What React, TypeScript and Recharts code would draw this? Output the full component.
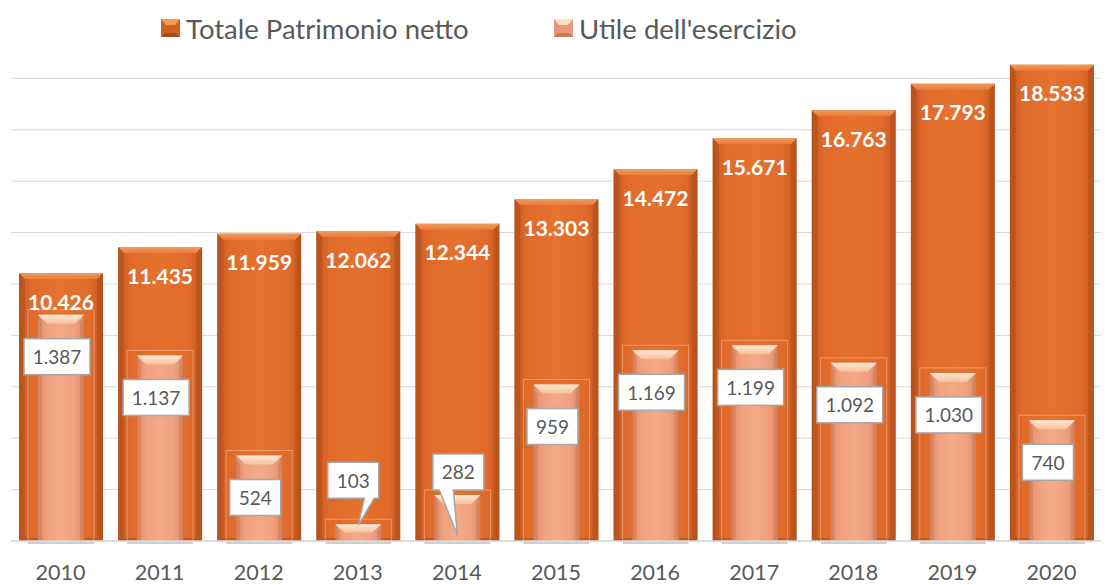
import React from 'react';
import {
  BarChart,
  Bar,
  XAxis,
  YAxis,
  CartesianGrid,
  LabelList,
} from 'recharts';

const YEARS = ['2010', '2011', '2012', '2013', '2014', '2015', '2016', '2017', '2018', '2019', '2020'];
const PATRIMONIO = [10426, 11435, 11959, 12062, 12344, 13303, 14472, 15671, 16763, 17793, 18533];
const UTILE = [1387, 1137, 524, 103, 282, 959, 1169, 1199, 1092, 1030, 740];
const LEFT_TICKS = [0, 2000, 4000, 6000, 8000, 10000, 12000, 14000, 16000, 18000];

const SERIES_NAMES = ['Totale Patrimonio netto', "Utile dell'esercizio"];

const data = YEARS.map((year, i) => ({
  year,
  patrimonio: PATRIMONIO[i],
  utile: UTILE[i],
}));

const FONT = 'Lato, "Open Sans", sans-serif';
const TEXT = '#595959';

// dotted thousands, Italian style
const fmt = (v: number) => String(v).replace(/\B(?=(\d{3})+(?!\d))/g, '.');

// callouts for the small values: box offset from bar top, pointer base, tip target
const CALLOUTS: Record<string, { dy: number; dx: number; base: [number, number]; tip: 'top' | 'bottom' }> = {
  '2013': { dy: -44, dx: -5, base: [11, 21], tip: 'top' },
  '2014': { dy: -23, dx: 1, base: [-19, -5], tip: 'bottom' },
};

const BigBar = (props: any) => {
  const { x, y, width: w, height: h } = props;
  if (!h || h <= 0) return null;
  const b = 6;
  return (
    <g>
      <rect x={x} y={y} width={w} height={h} fill="url(#bigBody)" />
      <polygon points={`${x},${y} ${x + b},${y + b} ${x + b},${y + h - 3} ${x},${y + h}`} fill="#7a3210" opacity={0.22} />
      <polygon points={`${x + w},${y} ${x + w - b},${y + b} ${x + w - b},${y + h - 3} ${x + w},${y + h}`} fill="#7a3210" opacity={0.22} />
      <polygon points={`${x},${y + h} ${x + b},${y + h - 3} ${x + w - b},${y + h - 3} ${x + w},${y + h}`} fill="#7a3210" opacity={0.3} />
      <polygon points={`${x},${y} ${x + w},${y} ${x + w - b},${y + b} ${x + b},${y + b}`} fill="url(#bigTop)" />
    </g>
  );
};

const SmallBar = (props: any) => {
  const { x, y, width: w, height: h } = props;
  if (!h || h <= 0) return null;
  const b = Math.min(9, h / 2);
  return (
    <g>
      <rect x={x - 10} y={y - 5} width={w + 20} height={h + 5} fill="none" stroke="#f7bf9c" strokeOpacity={0.55} strokeWidth={1} />
      <line x1={x - 10} x2={x + w + 10} y1={y + h + 2} y2={y + h + 2} stroke="#bfbfbf" strokeWidth={1.5} />
      <rect x={x} y={y} width={w} height={h} fill="url(#smallBody)" />
      <polygon points={`${x},${y} ${x + 4},${y + b} ${x + 4},${y + h} ${x},${y + h}`} fill="#a0502a" opacity={0.18} />
      <polygon points={`${x + w},${y} ${x + w - 4},${y + b} ${x + w - 4},${y + h} ${x + w},${y + h}`} fill="#a0502a" opacity={0.18} />
      <polygon points={`${x},${y} ${x + w},${y} ${x + w - 9},${y + b} ${x + 9},${y + b}`} fill="url(#smallTop)" />
    </g>
  );
};

const BigLabel = (props: any) => {
  const { x, y, width, value } = props;
  return (
    <text
      x={x + width / 2}
      y={y + 28}
      textAnchor="middle"
      dominantBaseline="central"
      fill="#ffffff"
      fontFamily={FONT}
      fontWeight={700}
      fontSize={21}
    >
      {fmt(value)}
    </text>
  );
};

const UtileLabel = (props: any) => {
  const { x, y, width, height, value, index } = props;
  const label = fmt(value);
  const digits = label.replace(/\./g, '').length;
  const dots = label.length - digits;
  const bw = Math.round(digits * 10.4 + dots * 4.7 + 20);
  const bh = 36;
  const cx = x + width / 2;
  const top = y;
  const bottom = y + height;
  const call = CALLOUTS[YEARS[index]];

  if (call) {
    const bx = cx + call.dx;
    const by = top + call.dy;
    const x0 = bx - bw / 2;
    const x1 = bx + bw / 2;
    const y0 = by - bh / 2;
    const y1 = by + bh / 2;
    const tipY = call.tip === 'top' ? top + 1 : bottom - 6;
    const path = `M${x0},${y0} H${x1} V${y1} H${bx + call.base[1]} L${cx},${tipY} L${bx + call.base[0]},${y1} H${x0} Z`;
    return (
      <g>
        <path d={path} fill="#ffffff" stroke="#a6a6a6" strokeWidth={1.5} />
        <text x={bx} y={by} textAnchor="middle" dominantBaseline="central" fill={TEXT} fontFamily={FONT} fontSize={19}>
          {label}
        </text>
      </g>
    );
  }

  const bx = cx - 4;
  const by = top + 42;
  return (
    <g>
      <rect x={bx - bw / 2} y={by - bh / 2} width={bw} height={bh} fill="#ffffff" stroke="#a6a6a6" strokeWidth={1.5} />
      <text x={bx} y={by} textAnchor="middle" dominantBaseline="central" fill={TEXT} fontFamily={FONT} fontSize={19}>
        {label}
      </text>
    </g>
  );
};

const YearTick = (props: any) => {
  const { x, y, payload } = props;
  return (
    <text x={x} y={y + 31} textAnchor="middle" dominantBaseline="central" fill={TEXT} fontFamily={FONT} fontSize={21.5}>
      {payload.value}
    </text>
  );
};

const LegendIcon = ({ light }: { light?: boolean }) => (
  <svg width={19} height={18} style={{ display: 'block' }}>
    <rect x={0} y={0} width={19} height={18} fill={light ? '#e9967a' : '#d0621f'} />
    <polygon points="0,0 19,0 14,6 5,6" fill={light ? '#fbe0c8' : '#f39a55'} />
    <polygon points="0,18 19,18 15,14 4,14" fill={light ? '#c87a5a' : '#a44b16'} />
  </svg>
);

const legendItems = [
  { name: SERIES_NAMES[0], left: 161, light: false },
  { name: SERIES_NAMES[1], left: 554, light: true },
];

export default function App() {
  return (
    <div style={{ position: 'absolute', left: 0, top: 0, width: 1108, height: 585, background: '#ffffff' }}>
      <BarChart
        width={1108}
        height={585}
        data={data}
        margin={{ top: 27, right: 7, bottom: 4, left: 11 }}
      >
        <defs>
          <linearGradient id="bigBody" x1="0" y1="0" x2="1" y2="0">
            <stop offset="0%" stopColor="#c95a1f" />
            <stop offset="15%" stopColor="#df6a2b" />
            <stop offset="50%" stopColor="#e6722f" />
            <stop offset="85%" stopColor="#df6a2b" />
            <stop offset="100%" stopColor="#c95a1f" />
          </linearGradient>
          <linearGradient id="bigTop" x1="0" y1="0" x2="0" y2="1">
            <stop offset="0%" stopColor="#f29a5c" />
            <stop offset="100%" stopColor="#e97c3a" />
          </linearGradient>
          <linearGradient id="smallBody" x1="0" y1="0" x2="1" y2="0">
            <stop offset="0%" stopColor="#e08b67" />
            <stop offset="20%" stopColor="#f0a07e" />
            <stop offset="50%" stopColor="#f4aa88" />
            <stop offset="80%" stopColor="#f0a07e" />
            <stop offset="100%" stopColor="#e08b67" />
          </linearGradient>
          <linearGradient id="smallTop" x1="0" y1="0" x2="0" y2="1">
            <stop offset="0%" stopColor="#fdebd6" />
            <stop offset="100%" stopColor="#f6bf9a" />
          </linearGradient>
        </defs>
        <CartesianGrid
          vertical={false}
          stroke="#d9d9d9"
          xAxisId="a"
          yAxisId="left"
          horizontalValues={LEFT_TICKS}
        />
        <XAxis
          xAxisId="a"
          dataKey="year"
          height={40}
          tickLine={false}
          tickSize={0}
          tickMargin={0}
          axisLine={{ stroke: '#d9d9d9', strokeWidth: 1.5 }}
          tick={<YearTick />}
          interval={0}
        />
        <XAxis xAxisId="b" dataKey="year" hide />
        <YAxis yAxisId="left" hide domain={[0, 20000]} ticks={LEFT_TICKS} />
        <YAxis yAxisId="right" orientation="right" hide domain={[0, 3150]} />
        <Bar
          dataKey="patrimonio"
          name={SERIES_NAMES[0]}
          xAxisId="a"
          yAxisId="left"
          barSize={84}
          shape={<BigBar />}
          isAnimationActive={false}
        >
          <LabelList dataKey="patrimonio" content={<BigLabel />} />
        </Bar>
        <Bar
          dataKey="utile"
          name={SERIES_NAMES[1]}
          xAxisId="b"
          yAxisId="right"
          barSize={46}
          shape={<SmallBar />}
          isAnimationActive={false}
        >
          <LabelList dataKey="utile" content={<UtileLabel />} />
        </Bar>
      </BarChart>
      {legendItems.map((item) => (
        <div
          key={item.name}
          style={{
            position: 'absolute',
            left: item.left,
            top: 14,
            height: 28,
            display: 'flex',
            alignItems: 'center',
            gap: 6,
            fontFamily: FONT,
            fontSize: 27.5,
            color: TEXT,
            whiteSpace: 'nowrap',
          }}
        >
          <LegendIcon light={item.light} />
          <span>{item.name}</span>
        </div>
      ))}
    </div>
  );
}
